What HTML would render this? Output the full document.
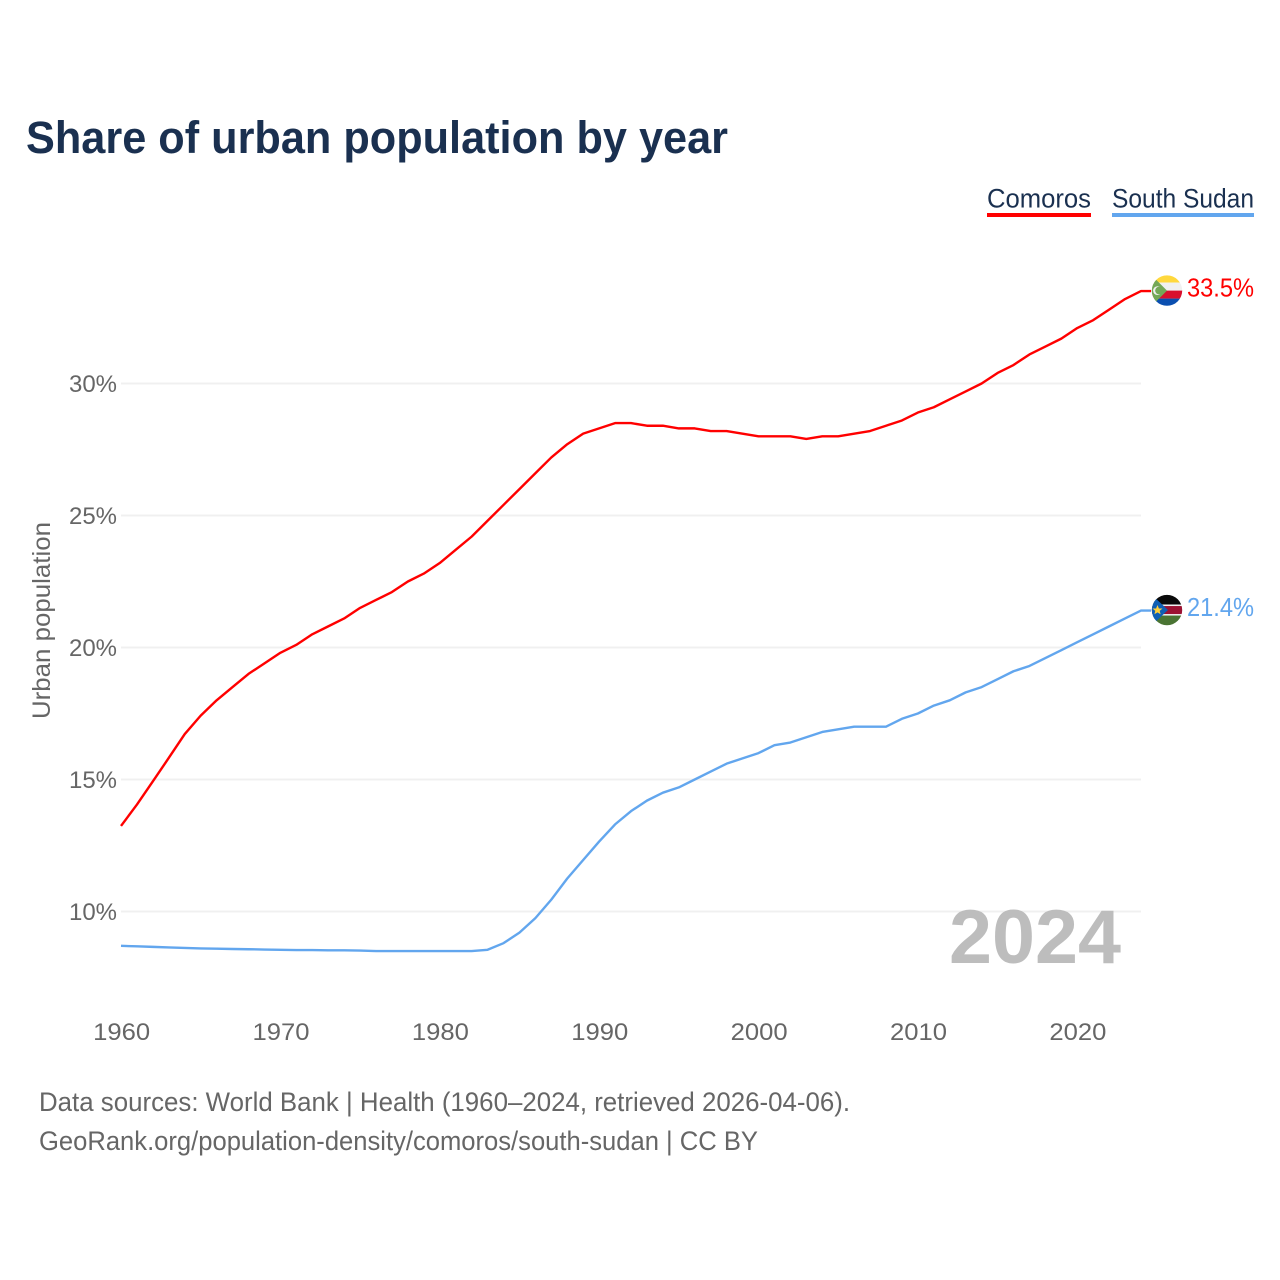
<!DOCTYPE html>
<html lang="en">
<head>
<meta charset="utf-8">
<title>Share of urban population by year</title>
<style>
html,body{margin:0;padding:0;background:#fff;}
svg{display:block;font-family:"Liberation Sans",sans-serif;}
</style>
</head>
<body>
<svg id="chart" xmlns="http://www.w3.org/2000/svg" width="1280" height="1280" viewBox="0 0 1280 1280">
  <defs>
    <clipPath id="flag-clip"><circle cx="0" cy="0" r="15.2"></circle></clipPath>
  </defs>
  <rect x="0" y="0" width="1280" height="1280" fill="#ffffff"></rect>
  <text x="26" y="153" font-size="45" font-weight="700" fill="#1a3050" textLength="702" lengthAdjust="spacingAndGlyphs">Share of urban population by year</text>

  <g>
    <g>
      <text x="987" y="207.5" font-size="27" fill="#1a3050" textLength="104" lengthAdjust="spacingAndGlyphs">Comoros</text>
      <rect x="987" y="213" width="104" height="4" fill="#ff0000"></rect>
    </g>
    <g>
      <text x="1112" y="207.5" font-size="27" fill="#1a3050" textLength="142" lengthAdjust="spacingAndGlyphs">South Sudan</text>
      <rect x="1112" y="213" width="142" height="4" fill="#62a6ee"></rect>
    </g>
  </g>

  <g id="grid"></g>
  <g id="y-axis"></g>
  <g id="x-axis"></g>
  <text transform="translate(50,620.5) rotate(-90)" text-anchor="middle" font-size="25" fill="#666666" textLength="197" lengthAdjust="spacingAndGlyphs">Urban population</text>

  <text x="949" y="963" font-size="76" font-weight="700" fill="#bdbdbd" textLength="172" lengthAdjust="spacingAndGlyphs">2024</text>

  <g id="series"></g>

  <g id="flag-comoros">
    <g clip-path="url(#flag-clip)">
      <rect x="-16" y="-16" width="32" height="8" fill="#ffd83d"></rect>
      <rect x="-16" y="-8" width="32" height="8" fill="#f0f0f0"></rect>
      <rect x="-16" y="0" width="32" height="8" fill="#d8102e"></rect>
      <rect x="-16" y="8" width="32" height="8" fill="#0a4fb0"></rect>
      <polygon points="-16,-16 0,0 -16,16" fill="#74a857"></polygon>
      <circle cx="-9.5" cy="0" r="4.4" fill="#f0f0f0"></circle>
      <circle cx="-8" cy="0" r="3.8" fill="#74a857"></circle>
    </g>
  </g>
  <g id="flag-south-sudan">
    <g clip-path="url(#flag-clip)">
      <rect x="-16" y="-16" width="32" height="10.5" fill="#0a0a0a"></rect>
      <rect x="-16" y="-5.5" width="32" height="11" fill="#f2f2f2"></rect>
      <rect x="-16" y="-4" width="32" height="8" fill="#9c1232"></rect>
      <rect x="-16" y="5.5" width="32" height="10.5" fill="#4a7433"></rect>
      <polygon points="-16,-16 1,0 -16,16" fill="#0f5fb5"></polygon>
      <polygon points="-9.5,-5 -8.1,-1.6 -4.5,-1.5 -7.3,0.8 -6.4,4.2 -9.5,2.3 -12.6,4.2 -11.7,0.8 -14.5,-1.5 -10.9,-1.6" fill="#ffcf3a"></polygon>
    </g>
  </g>

  <g id="end-labels"></g>

  <text x="39" y="1111" font-size="26.5" fill="#666666" textLength="811" lengthAdjust="spacingAndGlyphs">Data sources: World Bank | Health (1960–2024, retrieved 2026-04-06).</text>
  <text x="39" y="1150" font-size="26.5" fill="#666666" textLength="719" lengthAdjust="spacingAndGlyphs">GeoRank.org/population-density/comoros/south-sudan | CC BY</text>
</svg>

<script>
const years = [1960,1961,1962,1963,1964,1965,1966,1967,1968,1969,1970,1971,1972,1973,1974,1975,1976,1977,1978,1979,1980,1981,1982,1983,1984,1985,1986,1987,1988,1989,1990,1991,1992,1993,1994,1995,1996,1997,1998,1999,2000,2001,2002,2003,2004,2005,2006,2007,2008,2009,2010,2011,2012,2013,2014,2015,2016,2017,2018,2019,2020,2021,2022,2023,2024];
const comorosValues = [13.24,14.05,14.93,15.82,16.72,17.42,18.0,18.5,19.0,19.4,19.8,20.1,20.5,20.8,21.1,21.5,21.8,22.1,22.5,22.8,23.2,23.7,24.2,24.8,25.4,26.0,26.6,27.2,27.7,28.1,28.3,28.5,28.5,28.4,28.4,28.3,28.3,28.2,28.2,28.1,28.0,28.0,28.0,27.9,28.0,28.0,28.1,28.2,28.4,28.6,28.9,29.1,29.4,29.7,30.0,30.4,30.7,31.1,31.4,31.7,32.1,32.4,32.8,33.2,33.5];
const southSudanValues = [8.7,8.68,8.66,8.64,8.62,8.6,8.59,8.58,8.57,8.56,8.55,8.54,8.54,8.53,8.53,8.52,8.5,8.5,8.5,8.5,8.5,8.5,8.5,8.55,8.8,9.2,9.75,10.45,11.25,11.95,12.65,13.3,13.8,14.2,14.5,14.7,15.0,15.3,15.6,15.8,16.0,16.3,16.4,16.6,16.8,16.9,17.0,17.0,17.0,17.3,17.5,17.8,18.0,18.3,18.5,18.8,19.1,19.3,19.6,19.9,20.2,20.5,20.8,21.1,21.4];
const yTicks = [10,15,20,25,30];
const xTicks = [1960,1970,1980,1990,2000,2010,2020];

const SVG_NS = 'http://www.w3.org/2000/svg';
const plotLeft = 121, plotRight = 1141;
const firstYear = years[0], lastYear = years[years.length - 1];

function xScale(year) {
  return plotLeft + (year - firstYear) * (plotRight - plotLeft) / (lastYear - firstYear);
}
function yScale(value) {
  return 383.5 + (30 - value) * 26.4;
}
function make(tag, attrs, text) {
  const el = document.createElementNS(SVG_NS, tag);
  for (const key in attrs) el.setAttribute(key, attrs[key]);
  if (text !== undefined) el.textContent = text;
  return el;
}

const gridGroup = document.getElementById('grid');
const yAxisGroup = document.getElementById('y-axis');
const xAxisGroup = document.getElementById('x-axis');
const seriesGroup = document.getElementById('series');
const endLabelGroup = document.getElementById('end-labels');

yTicks.forEach(function (tick) {
  const line = make('line', { x1: plotLeft, x2: plotRight, y1: yScale(tick), y2: yScale(tick), stroke: '#f0f0f0', 'stroke-width': 2 });
  
  
  gridGroup.appendChild(line);
  const label = make('text', { x: 117, y: yScale(tick) + 8.5, 'text-anchor': 'end', 'font-size': 24.5, fill: '#666666', textLength: 48, lengthAdjust: 'spacingAndGlyphs' }, tick + '%');
  
  
  yAxisGroup.appendChild(label);
});

xTicks.forEach(function (tick) {
  const label = make('text', { x: xScale(tick) + 0.7, y: 1040, 'text-anchor': 'middle', 'font-size': 24.5, fill: '#666666', textLength: 57, lengthAdjust: 'spacingAndGlyphs' }, String(tick));
  
  
  xAxisGroup.appendChild(label);
});

function drawSeries(values, color, lineName, labelName, flagId) {
  const pts = values.map(function (v, i) { return xScale(years[i]) + ',' + yScale(v); });
  const endValue = values[values.length - 1];
  const endY = yScale(endValue);
  pts.push((plotRight + 10) + ',' + endY);
  const line = make('polyline', { points: pts.join(' '), fill: 'none', stroke: color, 'stroke-width': 2.4, 'stroke-linejoin': 'round' });
  
  
  seriesGroup.appendChild(line);
  document.getElementById(flagId).setAttribute('transform', 'translate(1167,' + (endY - 0.5) + ')');
  const label = make('text', { x: 1187, y: endY + 5.5, 'font-size': 25.5, fill: color, textLength: 67, lengthAdjust: 'spacingAndGlyphs' }, endValue.toFixed(1) + '%');
  
  
  endLabelGroup.appendChild(label);
}

drawSeries(comorosValues, '#ff0000', 'comoros-line', 'comoros-end-label', 'flag-comoros');
drawSeries(southSudanValues, '#62a6ee', 'south-sudan-line', 'south-sudan-end-label', 'flag-south-sudan');
</script>
</body>
</html>
